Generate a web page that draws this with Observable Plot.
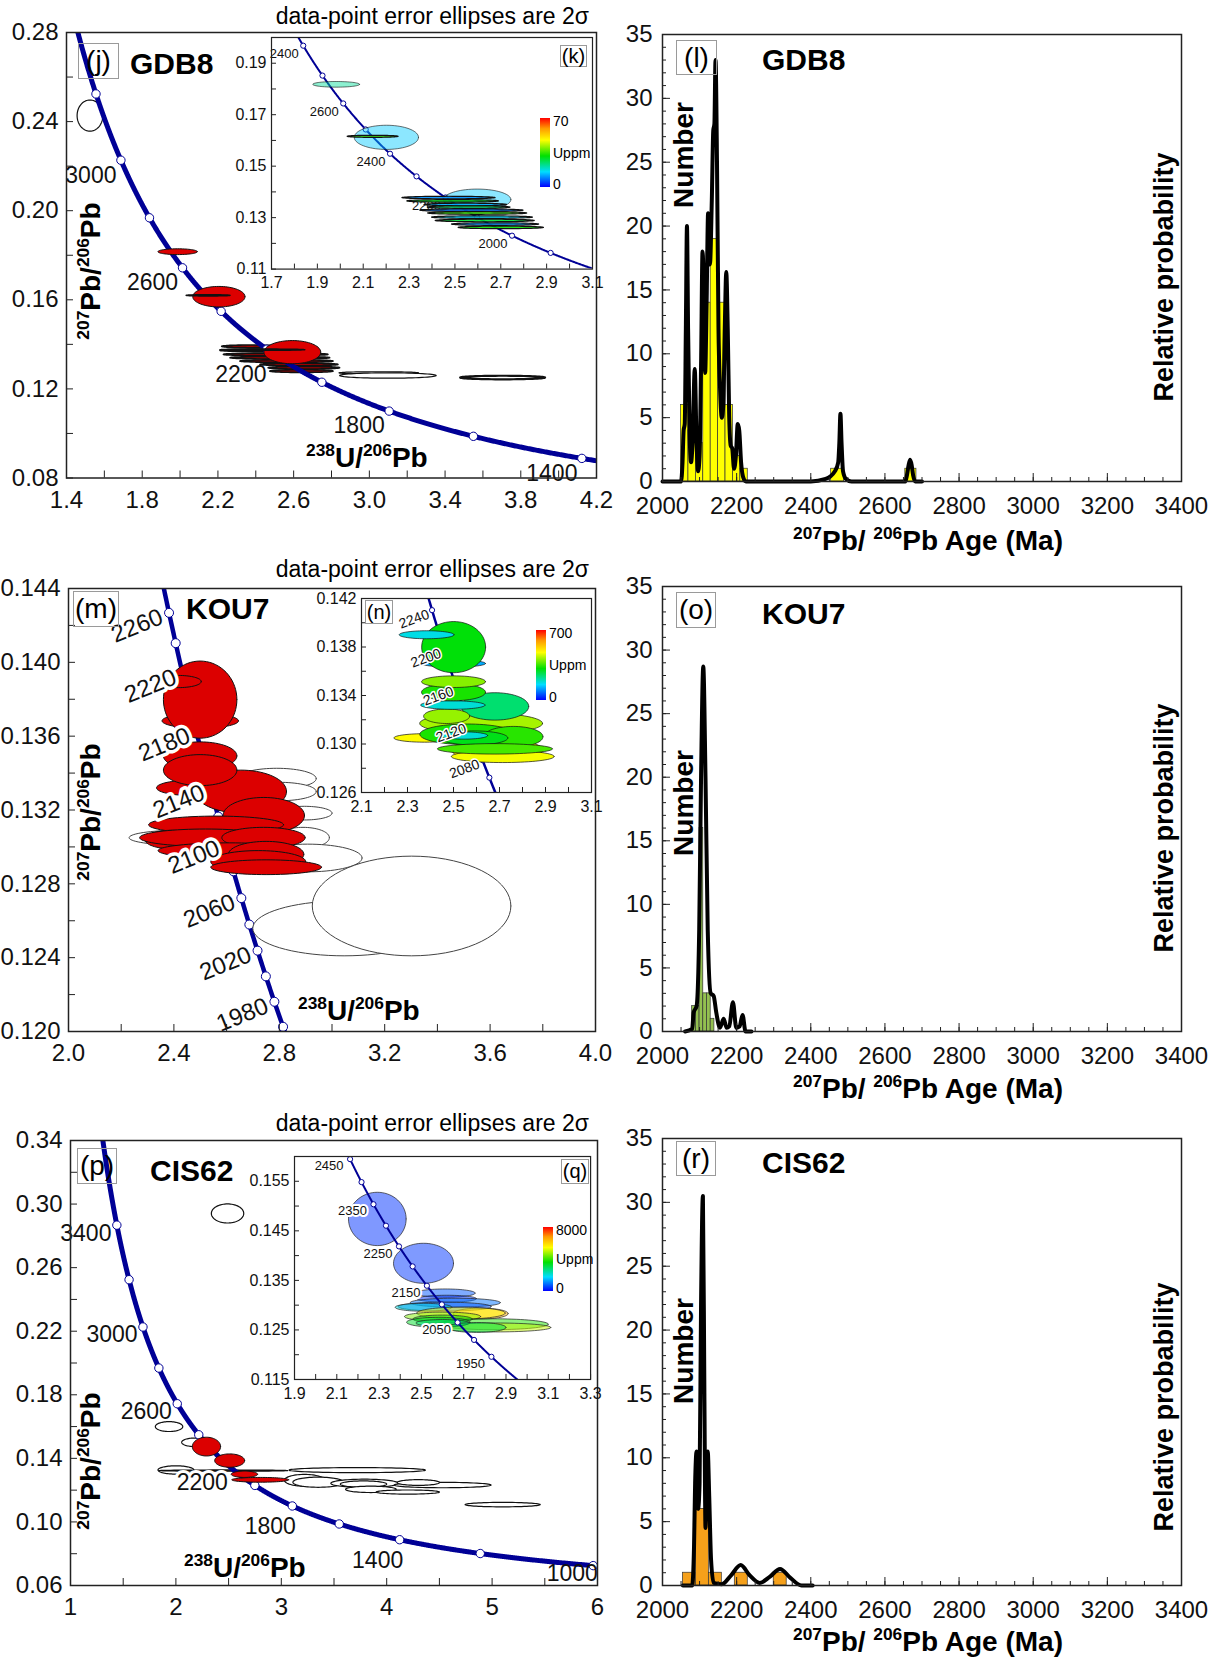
<!DOCTYPE html>
<html><head><meta charset="utf-8">
<script src="https://cdn.jsdelivr.net/npm/d3@7"></script>
<script src="https://cdn.jsdelivr.net/npm/@observablehq/plot@0.6"></script>
<style>
body{margin:0;background:#fff;font-family:"Liberation Sans",Arial,sans-serif;color:#000;}
#page{position:relative;width:1224px;height:1661px;overflow:hidden;}
.t{position:absolute;white-space:nowrap;line-height:1;}
.sup{font-size:0.62em;position:relative;top:-0.62em;}
.box{position:absolute;border:1.5px solid #9a9a9a;box-sizing:border-box;display:flex;align-items:center;justify-content:center;font-size:27px;}
.rot{transform:translate(-50%,-50%) rotate(-90deg);}
.cbar{position:absolute;background:linear-gradient(to top,#0000ff 0%,#00ddff 22%,#00e000 45%,#ffff00 68%,#ff9900 85%,#ff0000 100%);}
</style></head>
<body><div id="page"></div>
<script>
// ---------------- DATA ----------------
// decay constants (per Ma) and 238U/235U for the Tera-Wasserburg concordia
const LAMBDA238 = 1.55125e-4, LAMBDA235 = 9.8485e-4, U_RATIO = 137.88;

// GDB8 main (j): ellipses [x, y, rx, ry]
const gdbWhite = [[1.524,0.2427,0.068,0.0070],[3.05,0.1272,0.21,0.0005],[3.098,0.1260,0.255,0.0012],[3.704,0.1251,0.224,0.0008]];
const gdbThin = [[2.37,0.1391,0.15,0.0006],[2.474,0.1373,0.263,0.0006],[2.505,0.1355,0.276,0.0006],[2.527,0.1340,0.263,0.0006],[2.562,0.1325,0.246,0.0006],[2.628,0.1310,0.206,0.0006],[2.654,0.1295,0.189,0.0006],[2.641,0.1280,0.167,0.0006]];
const gdbRed = [[1.987,0.1816,0.104,0.0013],[2.205,0.1614,0.138,0.0046],[2.593,0.1365,0.150,0.0052]];
const gdbRedLines = [[2.148,0.1620,0.116,0.0003],[2.435,0.1376,0.224,0.0003]];
// GDB8 inset (k): [x, y, rx, ry, U ppm]
const gdbInset = [[1.982,0.1818,0.102,0.0011,22],[2.201,0.1612,0.140,0.0047,14],[2.141,0.1616,0.111,0.0004,35],[2.597,0.1370,0.147,0.0041,14],
  [2.472,0.1378,0.203,0.0005,10],[2.49,0.1365,0.20,0.0005,30],[2.545,0.1351,0.18,0.0005,12],[2.56,0.1341,0.18,0.0005,25],[2.572,0.1329,0.225,0.0005,8],
  [2.597,0.1318,0.216,0.0005,35],[2.618,0.1302,0.22,0.0005,15],[2.63,0.1289,0.216,0.0005,28],[2.675,0.1275,0.19,0.0005,10],[2.70,0.1262,0.186,0.0005,32]];

// KOU7 main (m)
const kouWhite = [[2.42,0.1305,0.19,0.0004],[2.79,0.1337,0.15,0.00056],[2.80,0.1330,0.14,0.0005],[2.895,0.13183,0.105,0.00037],[2.89,0.1305,0.10,0.00056],
  [2.907,0.1294,0.207,0.00075],[3.046,0.12559,0.3466,0.00149],[3.302,0.1268,0.3768,0.0027]];
const kouRed = [[2.47,0.1332,0.136,0.00042],[2.50,0.13683,0.145,0.0004],[2.4996,0.13798,0.1394,0.00209],[2.417,0.13896,0.0867,0.00033],
  [2.654,0.1330,0.1733,0.00116],[2.4996,0.13493,0.1394,0.00076],[2.4996,0.13416,0.1394,0.00084],[2.741,0.1317,0.1545,0.00098],
  [2.56,0.1312,0.256,0.00047],[2.39,0.1304,0.10,0.0005],[2.52,0.1305,0.25,0.00047],[2.74,0.1305,0.158,0.00056],[2.61,0.1298,0.27,0.00042],
  [2.75,0.1296,0.143,0.0007],[2.72,0.1292,0.18,0.0006],[2.75,0.1289,0.21,0.0004]];
// KOU7 inset (n)
const kouInset = [[2.62,0.1317,0.267,0.00087,420],[2.68,0.1331,0.147,0.00113,245],[2.69,0.1295,0.198,0.00092,500],[2.714,0.12897,0.2235,0.0005,470],
  [2.374,0.1305,0.133,0.00035,480],[2.56,0.1308,0.2065,0.00085,330],[2.76,0.1306,0.129,0.00085,340],[2.59,0.1305,0.146,0.00058,300],
  [2.68,0.1296,0.25,0.00043,360],[2.545,0.1307,0.103,0.0003,180],[2.47,0.13229,0.10,0.0006,410],[2.497,0.13321,0.14,0.00035,180],
  [2.50,0.13427,0.139,0.0007,330],[2.50,0.13514,0.139,0.00048,400],[2.50,0.13664,0.139,0.0003,120],[2.5006,0.13799,0.139,0.00211,310],
  [2.383,0.13901,0.119,0.00033,170]];

// CIS62 main (p)
const cisWhite = [[2.49,0.2941,0.1536,0.0060],[1.935,0.1600,0.13,0.0031],[2.18,0.1501,0.125,0.0027],[2.0,0.1327,0.17,0.0026],[3.72,0.1326,0.647,0.0016],
  [3.22,0.1262,0.19,0.0037],[3.35,0.1250,0.24,0.0032],[3.79,0.1243,0.32,0.0026],[3.78,0.1238,0.22,0.0020],[4.53,0.1232,0.46,0.0017],
  [4.30,0.1248,0.20,0.0018],[3.85,0.1205,0.24,0.0020],[4.20,0.1188,0.30,0.0013],[5.10,0.1109,0.356,0.0014]];
const cisThin = [[2.45,0.1323,0.61,0.0004]];
const cisRed = [[2.29,0.1474,0.134,0.0059],[2.51,0.1386,0.142,0.0042],[2.65,0.1300,0.125,0.0020],[2.80,0.1265,0.27,0.0015]];
// CIS62 inset (q)
const cisInset = [[2.2916,0.1474,0.1363,0.00538,400],[2.51,0.13845,0.1418,0.00404,420],[2.612,0.13243,0.142,0.00084,700],[2.62,0.1313,0.14,0.0007,400],
  [2.66,0.1305,0.213,0.0009,900],[2.61,0.1297,0.22,0.0009,700],[2.51,0.12957,0.134,0.0008,2000],[2.78,0.1283,0.13,0.0011,6500],
  [2.687,0.1284,0.209,0.0012,5500],[2.60,0.1277,0.18,0.0009,4500],[2.838,0.12615,0.262,0.0011,3800],[2.85,0.1255,0.262,0.0009,5000],
  [2.60,0.1272,0.14,0.0008,3500],[2.58,0.12655,0.15,0.0010,3300],[2.60,0.1264,0.126,0.0007,2800],[2.76,0.1255,0.14,0.0010,3000]];

// histograms: bin starts, bin widths, counts; probability curves [age, value]
const gdbBinStart = [2050,2070,2090,2110,2130,2150,2170,2190,2210,2455,2655];
const gdbBinWidth = [20,20,20,20,20,20,20,20,20,35,30];
const gdbCount = [6,4,3,14,19,14,6,2,1,1,1];
const gdbCurve = [[2000,0],[2050,0],[2054,1.5],[2057,4],[2060,4.5],[2063,12],[2066,20],[2069,12],[2073,4],[2077,1.5],[2081,3],[2087,8.8],[2092,3],[2096,0.8],
  [2100,2],[2104,9],[2108,18],[2112,14],[2115,8.5],[2119,14],[2123,21],[2128,17],[2133,22],[2137,27.5],[2140,28],[2143,33],[2147,25],[2151,12],[2155,7.5],
  [2160,5],[2164,6],[2168,12],[2172,16.4],[2176,12],[2180,5],[2184,2.8],[2188,2.6],[2193,1],[2198,2],[2203,4.5],[2207,4],[2212,1.5],[2218,0.3],[2225,0],
  [2400,0],[2440,0.2],[2465,0.8],[2474,1.5],[2477,3],[2480,5.3],[2483,3],[2487,0.8],[2495,0.2],[2510,0],[2655,0],[2660,0.6],[2664,1.3],[2668,1.7],
  [2672,1.3],[2676,0.5],[2682,0],[2700,0]];
const kouBinStart = [2080,2090,2100,2110,2120,2130];
const kouBinWidth = [10,10,10,10,10,10];
const kouCount = [2,2,16,3,3,1];
const kouCurve = [[2061,0],[2080,0.2],[2084,1.5],[2092,2],[2099,8],[2104,20],[2110,28.7],[2116,20],[2122,8],[2130,3],[2138,2.8],[2145,1.5],[2155,0.3],
  [2165,1],[2173,0.3],[2180,0.4],[2190,2.3],[2199,0.3],[2208,0.4],[2216,1.3],[2224,0],[2240,0]];
const cisBinStart = [2055,2090,2125,2195,2300];
const cisBinWidth = [35,35,35,35,35];
const cisCount = [1,6,1,1,1];
const cisCurve = [[2055,0],[2080,0],[2085,3],[2088,8],[2092,10.5],[2096,6],[2100,8],[2104,22],[2109,30.5],[2113,15],[2116,4.5],[2119,8],[2122,10.5],
  [2126,7],[2131,2],[2138,0.2],[2160,0.1],[2185,0.8],[2211,1.6],[2235,0.8],[2262,0.2],[2290,0.7],[2317,1.3],[2345,0.6],[2375,0],[2405,0]];

// axis ticks & labels
const gdbXLab = [1.4,1.8,2.2,2.6,3.0,3.4,3.8,4.2], gdbXTick = d3.range(14).map(i=>1.4+0.2*i);
const gdbYLab = [0.08,0.12,0.16,0.20,0.24,0.28], gdbYTick = d3.range(11).map(i=>0.08+0.02*i);
const kXLab = [1.7,1.9,2.1,2.3,2.5,2.7,2.9,3.1], kXTick = d3.range(15).map(i=>1.7+0.1*i);
const kYLab = [0.11,0.13,0.15,0.17,0.19], kYTick = d3.range(10).map(i=>0.11+0.01*i);
const kouXLab = [2.0,2.4,2.8,3.2,3.6,4.0], kouXTick = d3.range(11).map(i=>2.0+0.2*i);
const kouYLab = [0.120,0.124,0.128,0.132,0.136,0.140,0.144], kouYTick = d3.range(13).map(i=>0.120+0.002*i);
const nXLab = [2.1,2.3,2.5,2.7,2.9,3.1], nXTick = d3.range(11).map(i=>2.1+0.1*i);
const nYLab = [0.126,0.130,0.134,0.138,0.142], nYTick = d3.range(9).map(i=>0.126+0.002*i);
const cisXLab = [1,2,3,4,5,6], cisXTick = d3.range(11).map(i=>1+0.5*i);
const cisYLab = [0.06,0.10,0.14,0.18,0.22,0.26,0.30,0.34], cisYTick = d3.range(15).map(i=>0.06+0.02*i);
const qXLab = [1.9,2.1,2.3,2.5,2.7,2.9,3.1,3.3], qXTick = d3.range(15).map(i=>1.9+0.1*i);
const qYLab = [0.115,0.125,0.135,0.145,0.155], qYTick = d3.range(10).map(i=>0.115+0.005*i);
const hXLab = [2000,2200,2400,2600,2800,3000,3200,3400], hXTick = d3.range(29).map(i=>2000+50*i);
const hYLab = [0,5,10,15,20,25,30,35], hYTick = d3.range(36);

// concordia age markers and labels
const gdbMarkAges = d3.range(1400,3201,200), gdbLabAges = [3000,2600,1800,1400], gdbLabLow = [2200];
const kMarkAges = d3.range(1900,2801,100), kLabAges = [2800,2600,2400,2200,2000], kLabText = ["2400","2600","2400","2200","2000"];
const kouMarkAges = d3.range(1960,2261,20), kouLabAges = [2260,2220,2180,2140,2100,2060,2020,1980];
const nMarkAges = d3.range(2060,2261,20), nLabAges = [2240,2200,2160,2120,2080];
const cisMarkAges = d3.range(1000,3401,200), cisLabHigh = [3400,3000,2600], cisLabLow = [2200,1800,1400], cisLabEnd = [1000];
const qMarkAges = d3.range(1950,2451,50), qLabAges = [2450,2350,2250,2150,2050,1950];

// ---------------- HELPERS ----------------
const FONT = '"Liberation Sans", Arial, sans-serif';
const page = document.getElementById("page");
const NAVY = "#000096", RED = "#dc0000";
function tw(t){ const a = Math.exp(LAMBDA238*t)-1, b = Math.exp(LAMBDA235*t)-1; return {age:t, x:1/a, y:b/a/U_RATIO}; }
const jet = d3.scaleLinear().domain([0,0.22,0.45,0.68,0.85,1]).range(["#0000ff","#00ddff","#00e000","#ffff00","#ff9900","#ff0000"]).clamp(true);
function ring(e){ const [cx,cy,rx,ry] = e; return d3.range(73).map(k=>{const a=k/72*2*Math.PI; return {x:cx+rx*Math.cos(a), y:cy+ry*Math.sin(a)};}); }
function ell(list, style){ return list.map((e,i)=>Plot.line(ring(e), {x:"x", y:"y", clip:true, ...(typeof style==="function"?style(e,i):style)})); }
function place(node, left, top){ node.style.position="absolute"; node.style.left=left+"px"; node.style.top=top+"px"; node.style.background="transparent"; node.style.maxWidth="none"; page.appendChild(node); }
function txt(html, left, top, css){ const d=document.createElement("div"); d.className="t"; d.innerHTML=html; d.style.left=left+"px"; d.style.top=top+"px"; Object.assign(d.style, css||{}); page.appendChild(d); return d; }
function box(label, x1, y1, x2, y2, fs){ const d=document.createElement("div"); d.className="box"; d.textContent=label; Object.assign(d.style,{left:x1+"px",top:y1+"px",width:(x2-x1)+"px",height:(y2-y1)+"px",fontSize:(fs||27)+"px"}); page.appendChild(d); }

// generic axis marks (inward ticks, labels outside)
function axes(o){
  const fw = o.R-o.L, fh = o.B-o.T;
  const x0 = o.xd[0], y0 = o.yd[0];
  return [
    Plot.tickX(o.xTick, {x:d=>d, insetTop: fh - o.tl, stroke:"#222", strokeWidth:1}),
    ...(o.majX? [Plot.tickX(o.xLab, {x:d=>d, insetTop: fh - o.majX, stroke:"#222", strokeWidth:1})] : []),
    Plot.tickY(o.yTick, {y:d=>d, insetRight: fw - o.tl, stroke:"#222", strokeWidth:1}),
    ...(o.majY? [Plot.tickY(o.yLab, {y:d=>d, insetRight: fw - o.majY, stroke:"#222", strokeWidth:1})] : []),
    Plot.text(o.xLab, {x:d=>d, y:y0, text:o.fx, dy:o.xdy, fontSize:o.fs, fill:"#111"}),
    Plot.text(o.yLab, {x:x0, y:d=>d, text:o.fy, dx:-o.ydx, textAnchor:"end", fontSize:o.fs, fill:"#111"}),
    Plot.frame({stroke:"#222", strokeWidth:o.fw||1.5})
  ];
}

function concLine(c){
  const line = d3.range(c.tmin, c.tmax, c.step).map(tw);
  return [Plot.line(line, {x:"x", y:"y", stroke:NAVY, strokeWidth:c.lw, clip:true}),
    Plot.dot(c.marks.map(tw), {x:"x", y:"y", r:c.r, fill:"white", stroke:NAVY, strokeWidth:1, clip:true})];
}
function concLabels(ages, o){
  const lab = {x:a=>tw(a).x, y:a=>tw(a).y, text:(a,i)=>o.texts? o.texts[i] : String(a), dx:o.dx, dy:o.dy, fontSize:o.fs, fill:"#111", rotate:o.rot||0};
  if (o.halo) { lab.stroke = "white"; lab.strokeWidth = o.halo; }
  return Plot.text(ages, lab);
}

function panel(o){
  const mL=o.mL||78, mR=o.mR||30, mT=o.mT||12, mB=o.mB||42;
  const p = Plot.plot({
    width:(o.R-o.L)+mL+mR, height:(o.B-o.T)+mT+mB,
    marginLeft:mL, marginRight:mR, marginTop:mT, marginBottom:mB,
    x:{domain:o.xd, axis:null}, y:{domain:o.yd, axis:null},
    style:{fontFamily:FONT, background:"transparent", overflow:"visible"},
    marks:[
      ...(o.bg? [Plot.frame({fill:"white", stroke:"none"})] : []),
      ...o.marks,
      ...axes(o)
    ]
  });
  place(p, o.L-mL, o.T-mT);
}

// ---------------- PANEL j (GDB8 concordia) ----------------
const J = {L:66, R:596, T:32, B:477.5};
panel({...J, xd:[1.4,4.2], yd:[0.08,0.28], xLab:gdbXLab, xTick:gdbXTick, yLab:gdbYLab, yTick:gdbYTick,
  fx:d=>d.toFixed(1), fy:d=>d.toFixed(2), fs:24, tl:7, xdy:22, ydx:8,
  marks:[
    ...ell(gdbWhite, (e,i)=>({fill:"white", stroke:"#111", strokeWidth: i===3?2.2:1.2})),
    ...ell(gdbThin, {fill:"#a00000", stroke:"#111", strokeWidth:1.6}),
    ...concLine({tmin:1200, tmax:3500, step:2, lw:5, r:4.2, marks:gdbMarkAges}),
    concLabels(gdbLabAges, {dx:-30, dy:15, fs:23}),
    ...ell(gdbRed, {fill:RED, stroke:"#111", strokeWidth:1}),
    ...ell(gdbRedLines, {fill:"#222", stroke:"#111", strokeWidth:1.4}),
    concLabels(gdbLabLow, {dx:-26, dy:25, fs:23})
  ]});
// inset k
const K = {L:271, R:592, T:37, B:268.6};
panel({...K, mL:50, mR:10, mT:5, mB:26, bg:true, xd:[1.7,3.1], yd:[0.11,0.20], xLab:kXLab, xTick:kXTick, yLab:kYLab, yTick:kYTick,
  fx:d=>d.toFixed(1), fy:d=>d.toFixed(2), fs:16, tl:5, xdy:14, ydx:5, fw:1.2,
  marks:[
    ...concLine({tmin:1800, tmax:3000, step:2, lw:2, r:2.6, marks:kMarkAges}),
    concLabels(kLabAges, {texts:kLabText, dx:-19, dy:8, fs:13, halo:3}),
    ...ell(gdbInset, e=>({fill:jet(e[4]/70), fillOpacity: e[3]>0.001?0.45:0.9, stroke:"#111", strokeWidth: e[3]>0.001?0.6:1.2}))
  ]});

// ---------------- PANEL m (KOU7 concordia) ----------------
const M = {L:68, R:595, T:588, B:1031};
panel({...M, xd:[2.0,4.0], yd:[0.120,0.144], xLab:kouXLab, xTick:kouXTick, yLab:kouYLab, yTick:kouYTick,
  fx:d=>d.toFixed(1), fy:d=>d.toFixed(3), fs:24, tl:7, xdy:22, ydx:8,
  marks:[
    ...concLine({tmin:1900, tmax:2320, step:1, lw:4.5, r:4.5, marks:kouMarkAges}),
    ...ell(kouWhite, {fill:"white", stroke:"#444", strokeWidth:1}),
    ...ell(kouRed, {fill:RED, stroke:"#111", strokeWidth:1}),
    concLabels(kouLabAges, {dx:-32, dy:13, rot:-22, fs:24, halo:7})
  ]});
// inset n
const N = {L:361, R:591, T:598, B:792};
panel({...N, mL:62, mR:10, mT:5, mB:26, bg:true, xd:[2.1,3.1], yd:[0.126,0.142], xLab:nXLab, xTick:nXTick, yLab:nYLab, yTick:nYTick,
  fx:d=>d.toFixed(1), fy:d=>d.toFixed(3), fs:16, tl:5, xdy:14, ydx:5, fw:1.2,
  marks:[
    ...concLine({tmin:2000, tmax:2320, step:1, lw:2.5, r:2.6, marks:nMarkAges}),
    ...ell(kouInset, e=>({fill:jet(e[4]/700), stroke:"#111", strokeWidth:0.7})),
    concLabels(nLabAges, {dx:-18, dy:9, rot:-20, fs:14, halo:3})
  ]});

// ---------------- PANEL p (CIS62 concordia) ----------------
const P = {L:70, R:597, T:1140, B:1585};
panel({...P, xd:[1,6], yd:[0.06,0.34], xLab:cisXLab, xTick:cisXTick, yLab:cisYLab, yTick:cisYTick,
  fx:d=>String(d), fy:d=>d.toFixed(2), fs:24, tl:7, xdy:22, ydx:8,
  marks:[
    ...ell(cisWhite, {fill:"white", stroke:"#111", strokeWidth:1.2}),
    ...ell(cisThin, {fill:"#333", stroke:"#111", strokeWidth:1.2}),
    ...concLine({tmin:900, tmax:3800, step:2, lw:5, r:4.2, marks:cisMarkAges}),
    concLabels(cisLabHigh, {dx:-31, dy:8, fs:23}),
    concLabels(cisLabEnd, {dx:-21, dy:8, fs:23}),
    ...ell(cisRed, {fill:RED, stroke:"#111", strokeWidth:1}),
    concLabels(cisLabLow, {dx:-22, dy:21, fs:23, halo:6})
  ]});
// inset q
const Q = {L:294.3, R:590.4, T:1156, B:1379};
panel({...Q, mL:62, mR:12, mT:5, mB:26, bg:true, xd:[1.9,3.3], yd:[0.115,0.16], xLab:qXLab, xTick:qXTick, yLab:qYLab, yTick:qYTick,
  fx:d=>d.toFixed(1), fy:d=>d.toFixed(3), fs:16, tl:5, xdy:14, ydx:5, fw:1.2,
  marks:[
    ...ell(cisInset, e=>({fill:jet(e[4]/8000), fillOpacity:0.5, stroke:"#222", strokeWidth:0.7})),
    ...concLine({tmin:1850, tmax:2500, step:1, lw:2, r:2.6, marks:qMarkAges}),
    concLabels(qLabAges, {dx:-21, dy:7, fs:13, halo:4})
  ]});

// ---------------- HISTOGRAMS ----------------
function hist(F, starts, widths, counts, curve, fill){
  const bins = starts.map((s,i)=>({x1:s, x2:s+widths[i], n:counts[i]}));
  panel({...F, mL:62, mR:34, mT:12, mB:42, xd:[2000,3400], yd:[0,35], xLab:hXLab, xTick:hXTick, yLab:hYLab, yTick:hYTick,
    fx:d=>String(d), fy:d=>String(d), fs:24, tl:4, majX:8, majY:8, xdy:25, ydx:10,
    marks:[
      Plot.rectY(bins, {x1:"x1", x2:"x2", y:"n", fill, stroke:"#333", strokeWidth:0.7}),
      Plot.line(curve, {x:d=>d[0], y:d=>d[1], curve:"monotone-x", stroke:"#000", strokeWidth:4})
    ]});
}
const Lp = {L:662, R:1181, T:34, B:481};
const Op = {L:662, R:1181, T:586, B:1031};
const Rp = {L:662, R:1181, T:1138, B:1585};
hist(Lp, gdbBinStart, gdbBinWidth, gdbCount, gdbCurve, "#ffff00");
hist(Op, kouBinStart, kouBinWidth, kouCount, kouCurve, "#93c050");
hist(Rp, cisBinStart, cisBinWidth, cisCount, cisCurve, "#f5a01a");

// ---------------- TEXT OVERLAYS ----------------
const PB = '<span class="sup">207</span>Pb/<span class="sup">206</span>Pb';
const UPB = '<span class="sup">238</span>U/<span class="sup">206</span>Pb';
const AGE = '<span class="sup">207</span>Pb/ <span class="sup">206</span>Pb Age (Ma)';
function concText(tag, name, tagBox, nameX, nameY, ylabY, xlabX, xlabY, noteY){
  box(tag, ...tagBox, 28);
  txt(name, nameX, nameY, {fontSize:"30px", fontWeight:"bold", transform:"translateY(-50%)"});
  txt(PB, 91, ylabY, {fontSize:"28px", fontWeight:"bold"}).classList.add("rot");
  txt(UPB, xlabX, xlabY, {fontSize:"28px", fontWeight:"bold", transform:"translateY(-50%)"});
  txt("data-point error ellipses are 2σ", 589, noteY, {fontSize:"23px", transform:"translate(-100%,-50%)"});
}
concText("(j)", "GDB8", [78,43,119,79], 130, 64, 271, 306, 458, 16);
concText("(m)", "KOU7", [73,591,119,627], 186, 609, 812, 298, 1011, 569);
concText("(p)", "CIS62", [77,1148,117,1184], 150, 1171, 1461, 184, 1568, 1123);
// inset tags and colour bars
box("(k)", 560, 45, 587, 67, 20);
box("(n)", 365, 600, 393, 624, 20);
box("(q)", 561, 1159, 589, 1184, 20);
function cbar(x, y1, y2, top){
  const d=document.createElement("div"); d.className="cbar"; Object.assign(d.style,{left:x+"px",top:y1+"px",width:"10px",height:(y2-y1)+"px"}); page.appendChild(d);
  txt(top, x+13, y1, {fontSize:"14px", transform:"translateY(-30%)"});
  txt("Uppm", x+13, (y1+y2)/2, {fontSize:"14px", transform:"translateY(-50%)"});
  txt("0", x+13, y2, {fontSize:"14px", transform:"translateY(-70%)"});
}
cbar(540, 118, 187, "70");
cbar(536, 630, 700, "700");
cbar(543, 1227, 1291, "8000");

function histText(tag, name, tagBox, nameY, numY, relY, titleY){
  box(tag, ...tagBox, 28);
  txt(name, 762, nameY, {fontSize:"30px", fontWeight:"bold", transform:"translateY(-50%)"});
  txt("Number", 684, numY, {fontSize:"28px", fontWeight:"bold"}).classList.add("rot");
  txt("Relative probability", 1164, relY, {fontSize:"27px", fontWeight:"bold"}).classList.add("rot");
  txt(AGE, 928, titleY, {fontSize:"28px", fontWeight:"bold", transform:"translate(-50%,-50%)"});
}
histText("(l)", "GDB8", [676,40,717,75], 60, 155, 277, 541);
histText("(o)", "KOU7", [676,592,716,628], 614, 803, 828, 1089);
histText("(r)", "CIS62", [676,1141,716,1176], 1163, 1351, 1407, 1642);
</script></body></html>
